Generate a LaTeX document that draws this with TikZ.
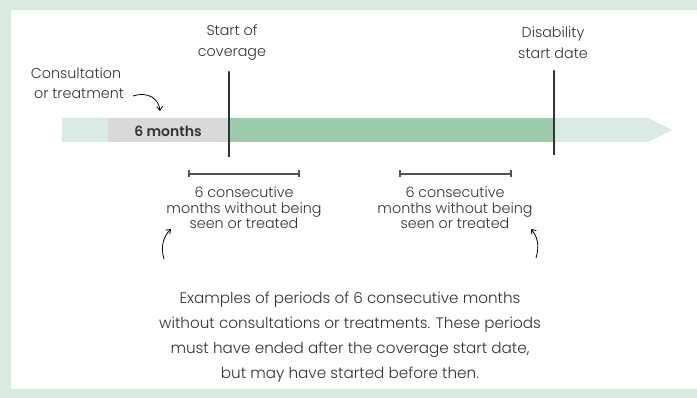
\documentclass[tikz,border=0pt]{standalone}
\usepackage{fontspec}
\setmainfont{Poppins}[UprightFont=* Light, BoldFont=* SemiBold]
\usetikzlibrary{arrows.meta}
\definecolor{bordergreen}{HTML}{D8EAE0}
\definecolor{palegreen}{HTML}{D9EBE3}
\definecolor{midgreen}{HTML}{9BCBAA}
\definecolor{greybar}{HTML}{D9D9D9}
\definecolor{ink}{HTML}{333333}
\begin{document}
\begin{tikzpicture}[x=1pt,y=-1pt,
  lbl/.style={text=ink,font=\fontsize{14.3}{21}\selectfont,align=center,inner sep=0pt},
  spanlbl/.style={text=ink,font=\fontsize{14.3}{15.5}\selectfont,align=center,inner sep=0pt},
  para/.style={text=ink,font=\fontsize{15.2}{24.8}\selectfont,align=center,inner sep=0pt},
  marker/.style={draw=ink,line width=1.3pt},
  span/.style={draw=ink!85,line width=1.6pt,{Bar[width=7pt]}-{Bar[width=7pt]}},
  pointer/.style={draw=black,line width=0.8pt,-{Straight Barb[length=4pt,width=6pt]}}]
\fill[bordergreen] (0,0) rectangle (697,398);
\fill[white] (11,10) rectangle (697,389);
\useasboundingbox (0,0) rectangle (697,398);
% timeline bar
\fill[palegreen] (62,118) -- (648,118) -- (672,130) -- (648,142) -- (62,142) -- cycle;
\fill[greybar] (108,118) rectangle (229,142);
\fill[midgreen] (229,118) rectangle (554,142);
\node[text=ink,font=\fontsize{14}{16}\selectfont\bfseries,inner sep=0pt] (six) at (168,131) {6 months};
% markers
\coordinate (cs1) at (229,72); \coordinate (cs2) at (229,157);
\coordinate (ds1) at (554,71); \coordinate (ds2) at (554,155);
\draw[marker] (cs1) -- (cs2);
\draw[marker] (ds1) -- (ds2);
\fill[ink] (cs1) circle (1.2pt);
\fill[ink] (ds1) circle (1.2pt);
\node[lbl] (start) at (232,43) {Start of\\coverage};
\node[lbl,font=\fontsize{14.3}{19.5}\selectfont] (cons) at (76,83) {Consultation\\\hspace*{6pt}or treatment};
\node[lbl] (dis) at (553,43) {Disability\\start date};
\coordinate (ca) at (133,96);
\coordinate (cb) at (160,111);
\draw[pointer] (ca) .. controls (148,91) and (159,99) .. (cb);
% spans
\coordinate (s1a) at (188,174); \coordinate (s1b) at (300,174);
\coordinate (s2a) at (399,174); \coordinate (s2b) at (512,174);
\draw[span] (s1a) -- (s1b);
\draw[span] (s2a) -- (s2b);
\node[spanlbl] (t1) at (244,208) {6 consecutive\\months without being\\seen or treated};
\node[spanlbl] (t2) at (455,208) {6 consecutive\\months without being\\seen or treated};
% small arrows
\coordinate (la) at (164,259); \coordinate (lb) at (171,229);
\coordinate (ra) at (536,258); \coordinate (rb) at (531,229);
\draw[pointer] (la) .. controls (160,246) and (164,236) .. (lb);
\draw[pointer] (ra) .. controls (540,245) and (537,236) .. (rb);
\node[para] (note) at (350,337) {Examples of periods of 6 consecutive months\\without consultations or treatments. These periods\\must have ended after the coverage start date,\\but may have started before then.};
\end{tikzpicture}
\end{document}
